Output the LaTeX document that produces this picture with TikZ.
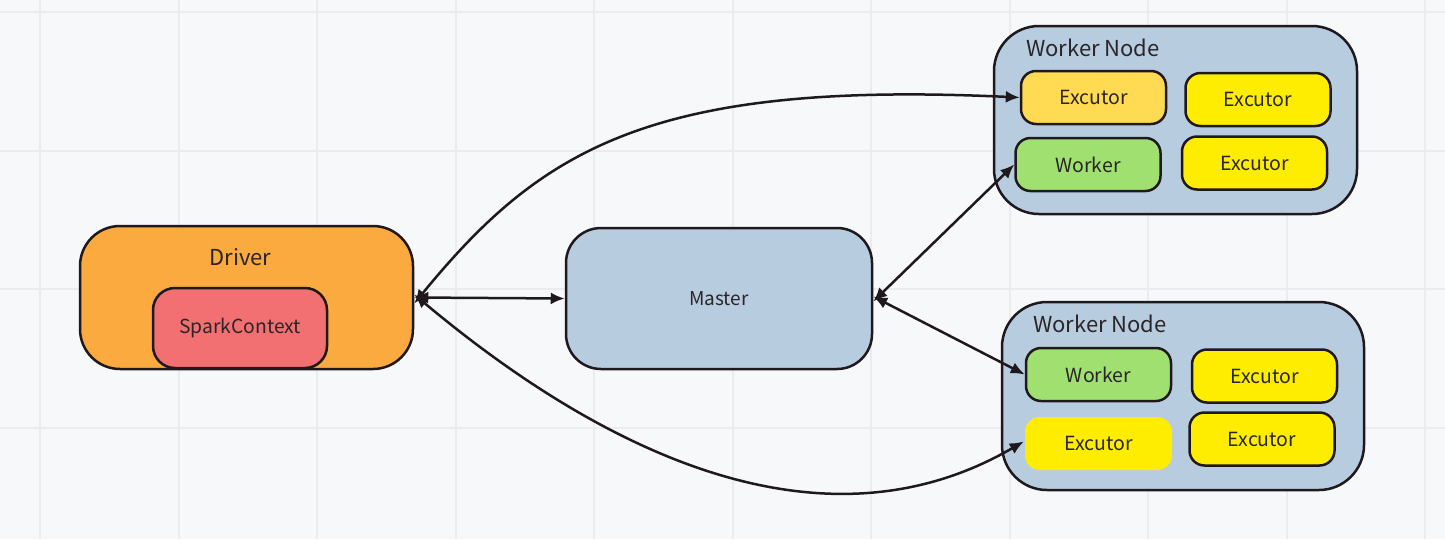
\documentclass[tikz,border=0pt]{standalone}
\usepackage{fontspec}
\newfontfamily\nsc{Noto Sans CJK SC}
\usetikzlibrary{arrows.meta}
\definecolor{bg}{HTML}{F7F8FA}
\definecolor{gridc}{HTML}{EBECEF}
\definecolor{drv}{HTML}{FAAA3E}
\definecolor{spk}{HTML}{F37072}
\definecolor{blu}{HTML}{B8CCE0}
\definecolor{exo}{HTML}{FFDA52}
\definecolor{yel}{HTML}{FFED00}
\definecolor{grn}{HTML}{A0E071}
\definecolor{ink}{HTML}{1F181C}
\definecolor{txt}{HTML}{2A2528}
\tikzset{
  box/.style={draw=ink, line width=2.5pt, text=txt, inner sep=0pt, font=\nsc},
  small/.style={box, rounded corners=15pt, minimum width=145pt, minimum height=53pt, font=\nsc\fontsize{19.5}{22}\selectfont},
  lab/.style={text=txt, inner sep=0pt, font=\nsc\fontsize{22}{26}\selectfont},
  conn/.style={draw=ink, line width=2.5pt, {Latex[length=14pt,width=12pt]}-{Latex[length=14pt,width=12pt]}},
}
\begin{document}
\begin{tikzpicture}[x=1pt,y=-1pt]
\useasboundingbox (0,0) rectangle (1445,539);
\fill[bg] (0,0) rectangle (1445,539);
\foreach \gx in {40,178.5,317,455.5,594,732.5,871,1009.5,1148,1286.5,1425}
  \draw[gridc, line width=2pt] (\gx,0) -- (\gx,539);
\foreach \gy in {12,150.5,289,427.5}
  \draw[gridc, line width=2pt] (0,\gy) -- (1445,\gy);

% Driver
\node[box, fill=drv, rounded corners=40pt, minimum width=333pt, minimum height=143pt] (driver) at (246.5,297.5) {};
\node[lab] (drvlab) at (240.5,257) {Driver};
\node[box, fill=spk, rounded corners=22pt, minimum width=174pt, minimum height=80pt, font=\nsc\fontsize{19.3}{22}\selectfont] (spark) at (240,328) {SparkContext};

% Master
\node[box, fill=blu, rounded corners=35pt, minimum width=306pt, minimum height=141pt, font=\nsc\fontsize{19}{22}\selectfont] (master) at (719,298.5) {Master};

% Worker node top
\node[box, fill=blu, rounded corners=45pt, minimum width=363pt, minimum height=188pt] (wn1) at (1175.5,120) {};
\node[lab, anchor=west] (wn1lab) at (1026,48) {Worker Node};
\node[small, fill=exo] (exA) at (1093.5,97.5) {Excutor};
\node[small, fill=yel] (exB) at (1258,99.5) {Excutor};
\node[small, fill=grn] (wkA) at (1088,164.5) {Worker};
\node[small, fill=yel] (exC) at (1254.5,163) {Excutor};

% Worker node bottom
\node[box, fill=blu, rounded corners=45pt, minimum width=362pt, minimum height=188pt] (wn2) at (1183,396) {};
\node[lab, anchor=west] (wn2lab) at (1033,324) {Worker Node};
\node[small, fill=grn] (wkB) at (1098.5,374.5) {Worker};
\node[small, fill=yel] (exD) at (1264.5,376) {Excutor};
\node[small, draw=none, fill=yel, minimum width=147pt] (exE) at (1098.5,443.5) {Excutor};
\node[small, fill=yel] (exF) at (1262,439) {Excutor};

% connectors
\draw[conn] (driver.east) -- (master.west);
\draw[conn] ([yshift=-6pt]driver.east) .. controls (540,150) and (650,80) .. (exA.west);
\draw[conn] ([yshift=3pt]driver.east) .. controls (600,450) and (820,560) .. ([yshift=2pt]exE.west);
\draw[conn] ([yshift=-3pt]master.east) -- (wkA.west);
\draw[conn] ([yshift=2pt]master.east) -- (wkB.west);
\end{tikzpicture}
\end{document}
